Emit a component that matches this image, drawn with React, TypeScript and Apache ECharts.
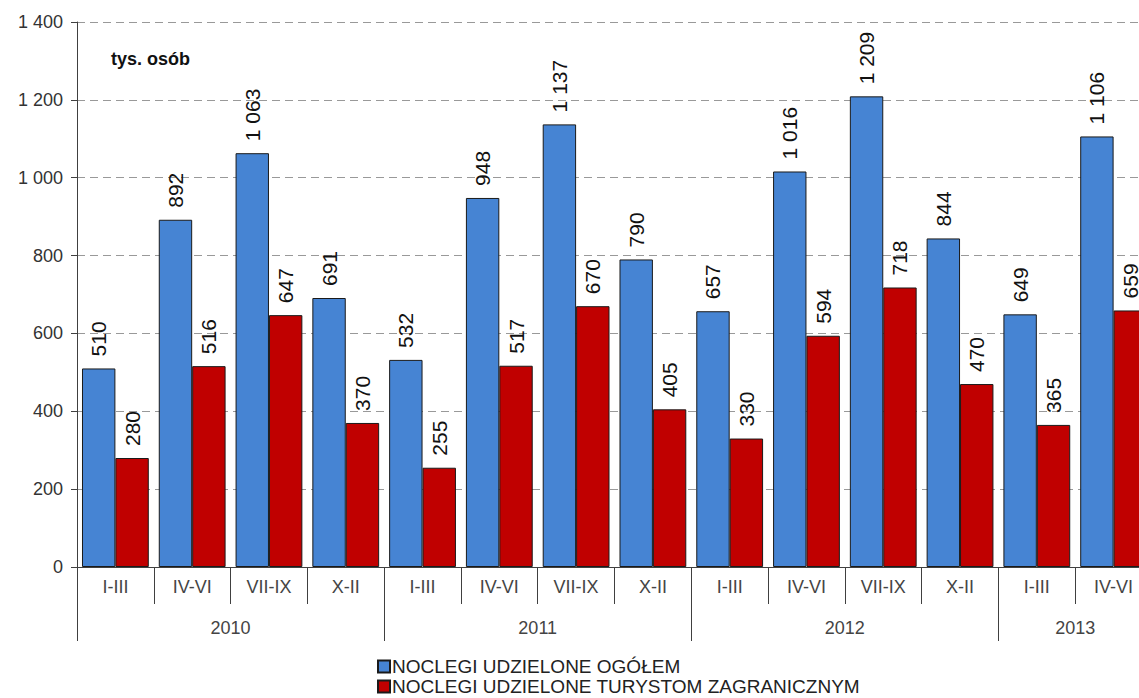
import React, { useEffect, useRef } from "react";
import * as echarts from "echarts";

const quarters = ["I-III", "IV-VI", "VII-IX", "X-II", "I-III", "IV-VI", "VII-IX", "X-II", "I-III", "IV-VI", "VII-IX", "X-II", "I-III", "IV-VI"];
const totalStays = [510, 892, 1063, 691, 532, 948, 1137, 790, 657, 1016, 1209, 844, 649, 1106];
const foreignStays = [280, 516, 647, 370, 255, 517, 670, 405, 330, 594, 718, 470, 365, 659];
const years = ["2010", "2011", "2012", "2013"];
const yearSpans = [4, 4, 4, 2];
const seriesNames = ["NOCLEGI UDZIELONE OGÓŁEM", "NOCLEGI UDZIELONE TURYSTOM ZAGRANICZNYM"];
const unitLabel = "tys. osób";

const FONT = "'Liberation Sans', Arial, sans-serif";

function fmt(v: number): string {
  return String(v).replace(/\B(?=(\d{3})+(?!\d))/g, " ");
}

export default function App() {
  const ref = useRef<HTMLDivElement>(null);
  useEffect(() => {
    if (!ref.current) return;
    const chart = echarts.init(ref.current, null, { renderer: "svg" });

    const halfCount = quarters.length * 2 + 1;
    const halfData: string[] = [];
    for (let i = 0; i < halfCount; i++) halfData.push(String(i));
    const yearLabelAt: Record<string, string> = {};
    const yearBoundary: Record<number, boolean> = { 0: true };
    let acc = 0;
    yearSpans.forEach((span, i) => {
      yearLabelAt[String(acc * 2 + span)] = years[i];
      acc += span;
      yearBoundary[acc * 2] = true;
    });

    const labelStyle = {
      show: true,
      position: "top" as const,
      rotate: 90,
      align: "left" as const,
      verticalAlign: "middle" as const,
      distance: 12,
      fontSize: 21,
      fontFamily: FONT,
      color: "#111",
      formatter: (p: any) => fmt(p.value),
    };

    chart.setOption({
      animation: false,
      grid: { left: 77, top: 22, width: 1075, height: 545, containLabel: false },
      graphic: [
        {
          type: "text",
          left: 111,
          top: 50,
          style: { text: unitLabel, font: `bold 18px ${FONT}`, fill: "#111" },
        },
      ],
      legend: {
        orient: "vertical",
        left: 377,
        top: 657,
        padding: 0,
        itemWidth: 12,
        itemHeight: 12,
        itemGap: 1,
        icon: "rect",
        textStyle: { fontSize: 19, fontFamily: FONT, color: "#222", padding: [0, 0, 0, -3], lineHeight: 19 },
        data: seriesNames,
      },
      xAxis: [
        {
          type: "category",
          data: quarters,
          position: "bottom",
          axisLine: { show: true, lineStyle: { color: "#404040", width: 1 } },
          axisTick: { show: true, length: 37, lineStyle: { color: "#404040" } },
          axisLabel: { margin: 11, fontSize: 18, fontFamily: FONT, color: "#444", interval: 0 },
        },
        {
          type: "category",
          data: halfData,
          boundaryGap: false,
          position: "bottom",
          axisLine: { show: false },
          axisTick: {
            show: true,
            length: 74,
            interval: (i: number) => !!yearBoundary[i],
            lineStyle: { color: "#404040" },
          },
          axisLabel: {
            margin: 52,
            fontSize: 18,
            fontFamily: FONT,
            color: "#444",
            interval: 0,
            formatter: (v: string) => yearLabelAt[v] || "",
          },
        },
      ],
      yAxis: {
        type: "value",
        min: 0,
        max: 1400,
        interval: 200,
        axisLine: { show: true, lineStyle: { color: "#404040" } },
        axisTick: { show: true, length: 6, lineStyle: { color: "#404040" } },
        axisLabel: { margin: 14, fontSize: 18, fontFamily: FONT, color: "#333", formatter: (v: number) => fmt(v) },
        splitLine: { show: true, lineStyle: { color: "#999", type: [8, 5], width: 1 } },
      },
      series: [
        {
          name: seriesNames[0],
          type: "bar",
          xAxisIndex: 0,
          data: totalStays,
          barGap: "0%",
          barCategoryGap: "13%",
          itemStyle: { color: "#4684D3", borderColor: "#1a1a1a", borderWidth: 1 },
          label: labelStyle,
        },
        {
          name: seriesNames[1],
          type: "bar",
          xAxisIndex: 0,
          data: foreignStays,
          barGap: "0%",
          barCategoryGap: "13%",
          itemStyle: { color: "#C00000", borderColor: "#1a1a1a", borderWidth: 1 },
          label: labelStyle,
        },
      ],
    });
    return () => chart.dispose();
  }, []);
  return (
    <div style={{ position: "fixed", left: 0, top: 0, width: 1139, height: 698, overflow: "hidden", background: "#fff" }}>
      <div ref={ref} style={{ position: "absolute", left: 0, top: 0, width: 1170, height: 698 }} />
    </div>
  );
}
